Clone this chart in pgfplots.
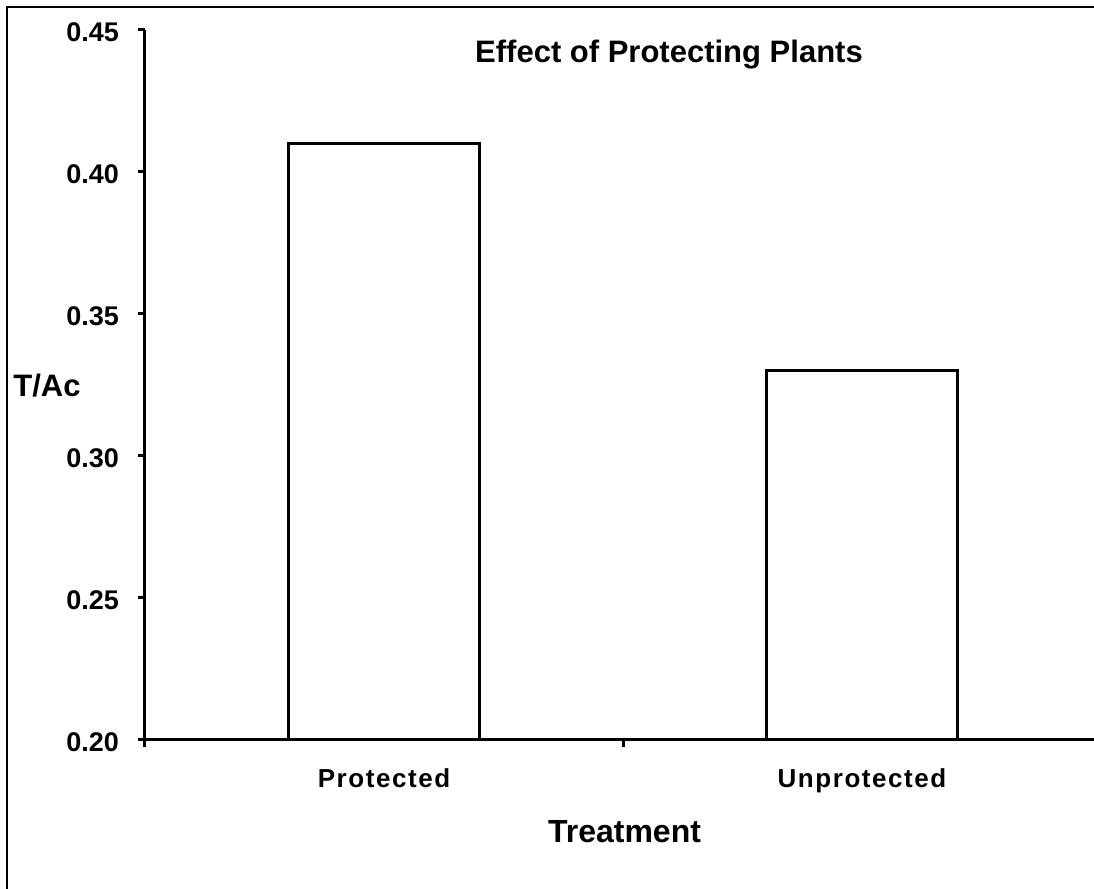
\documentclass[border=0pt]{standalone}
\usepackage{fontspec}
\setmainfont{Liberation Sans}
\newfontfamily\spacedfont[LetterSpace=6]{Liberation Sans}
\usepackage{pgfplots}
\pgfplotsset{compat=1.18}
\begin{document}
\begin{tikzpicture}
\useasboundingbox (0,0) rectangle (547pt,444.5pt);
\clip (0,0) rectangle (547pt,444.5pt);
\fill[white] (0,0) rectangle (547pt,444.5pt);
\draw[line width=1pt] (3.5pt,-20pt) rectangle (600pt,441pt);
\begin{axis}[
  at={(72.5pt,74.5pt)}, anchor=south west,
  scale only axis, width=478pt, height=355pt,
  xmin=-0.5, xmax=1.5, ymin=0.2, ymax=0.45,
  axis x line=bottom, axis y line=left,
  axis line style={-, line width=1.5pt},
  ybar, bar width=0.4,
  xtick={-0.5,0.5,1.5}, x tick label as interval,
  xticklabels={Protected,Unprotected},
  ytick={0.2,0.25,0.3,0.35,0.4,0.45},
  tick align=outside, major tick length=3.5pt,
  tick style={line width=1.5pt, black},
  /pgf/number format/assume math mode=true,
  yticklabel style={/pgf/number format/fixed, /pgf/number format/fixed zerofill,
    /pgf/number format/precision=2, font=\fontsize{13.5}{16}\selectfont\bfseries, xshift=-6pt, yshift=-1.25pt},
  xticklabel style={font=\spacedfont\fontsize{13}{15}\selectfont\bfseries, yshift=-7.5pt},
]
\addplot[fill=white, draw=black, line width=1.5pt] coordinates {(0,0.41) (1,0.33)};
\end{axis}
\node[anchor=base, inner sep=0pt, font=\fontsize{15.5}{18}\selectfont\bfseries] at (334.5pt,413pt) {Effect of Protecting Plants};
\node[anchor=base, inner sep=0pt, font=\fontsize{16}{19}\selectfont\bfseries] at (312.25pt,23pt) {Treatment};
\node[anchor=base west, inner sep=0pt, font=\fontsize{15.5}{18}\selectfont\bfseries] at (6.5pt,246pt) {T/Ac};
\end{tikzpicture}
\end{document}
